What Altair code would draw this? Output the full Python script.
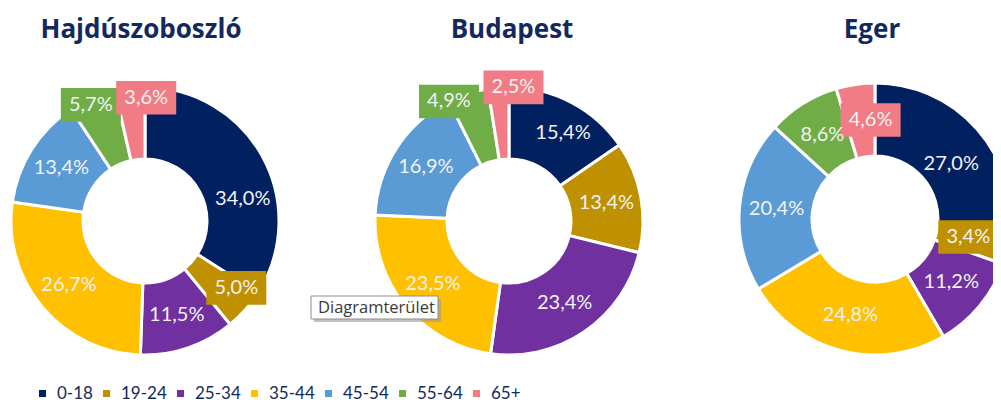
import altair as alt
import pandas as pd

# ---------------- data ----------------
AGES = ["0-18", "19-24", "25-34", "35-44", "45-54", "55-64", "65+"]
CITIES = ["Hajdúszoboszló", "Budapest", "Eger"]
HAJDU = [34.0, 5.0, 11.5, 26.7, 13.4, 5.7, 3.6]
BUDAPEST = [15.4, 13.4, 23.4, 23.5, 16.9, 4.9, 2.5]
EGER = [27.0, 3.4, 11.2, 24.8, 20.4, 8.6, 4.6]
COLORS = ["#002060", "#BF9000", "#7030A0", "#FFC000", "#5B9BD5", "#70AD47", "#F27C85"]

# ---------------- layout (code constants, not data) ----------------
CENTER = {"Hajdúszoboszló": (137, 213), "Budapest": (501, 213), "Eger": (867, 211)}
TITLE_X = {"Hajdúszoboszló": 133, "Budapest": 504, "Eger": 864}
R_OUT = {"Hajdúszoboszló": 134, "Budapest": 134, "Eger": 136}
R_IN = {"Hajdúszoboszló": 62, "Budapest": 62, "Eger": 63}
MID_R = 99
BOX_R = {"Hajdúszoboszló": 122, "Budapest": 134, "Eger": 100}
NUDGE = {
    ("Hajdúszoboszló", "0-18"): (11, 26),
    ("Hajdúszoboszló", "65+"): (15, -2),
    ("Hajdúszoboszló", "55-64"): (-6, -4),
    ("Hajdúszoboszló", "19-24"): (0, -14),
    ("Budapest", "0-18"): (8, 0),
    ("Budapest", "65+"): (15, 0),
    ("Budapest", "55-64"): (-19, 8),
    ("Eger", "0-18"): (2, 10),
    ("Eger", "65+"): (10, 0),
    ("Eger", "19-24"): (-4, -5),
}
TEXT_NAVY = "#13295E"
FONT = "Lato"

rows = []
for city, vals in zip(CITIES, [HAJDU, BUDAPEST, EGER]):
    for i, (age, v) in enumerate(zip(AGES, vals)):
        nx, ny = NUDGE.get((city, age), (0, 0))
        rows.append({"city": city, "age": age, "ord": i, "value": v, "nx": nx, "ny": ny})
df = pd.DataFrame(rows)

color_scale = alt.Scale(domain=AGES, range=COLORS)
legend = alt.Legend(
    title=None, orient="none", legendX=26, legendY=377, direction="horizontal",
    symbolType="square", symbolSize=50, symbolStrokeWidth=0,
    labelFont=FONT, labelFontSize=17, labelColor=TEXT_NAVY,
    columnPadding=5, labelOffset=6, columns=7, gridAlign="none", padding=0,
)

BOX = "M-1,-0.56L1,-0.56L1,0.56L-1,0.56Z"

layers = []
for city in CITIES:
    cx, cy = CENTER[city]
    base = alt.Chart(df).transform_filter(alt.datum.city == city)
    arcs = base.mark_arc(
        outerRadius=R_OUT[city], innerRadius=R_IN[city], stroke="white", strokeWidth=3
    ).encode(
        theta=alt.Theta("value:Q", stack="normalize"),
        color=alt.Color("age:N", scale=color_scale, legend=legend, sort=AGES),
        order=alt.Order("ord:Q"),
        x=alt.value(cx),
        y=alt.value(cy),
    )
    pos = base.transform_window(
        cum="sum(value)", sort=[alt.SortField("ord")], frame=[None, 0]
    ).transform_joinaggregate(
        total="sum(value)"
    ).transform_calculate(
        ang="2*PI*(datum.cum - datum.value/2)/datum.total",
        r=f"datum.value < 6 ? {BOX_R[city]} : {MID_R}",
        lx=f"{cx} + datum.r*sin(datum.ang) + datum.nx",
        ly=f"{cy} - datum.r*cos(datum.ang) + datum.ny",
        txt="replace(format(datum.value, '.1f'), '.', ',') + '%'",
    )
    boxes = pos.transform_filter(alt.datum.value < 6).mark_point(
        shape=BOX, size=3600, filled=True, opacity=1, strokeWidth=0
    ).encode(
        x=alt.X("lx:Q", scale=None, axis=None),
        y=alt.Y("ly:Q", scale=None, axis=None),
        color=alt.Color("age:N", scale=color_scale, legend=legend, sort=AGES),
    )
    labels = pos.mark_text(
        font=FONT, fontSize=20, color="#F2F2F2", align="center", baseline="middle"
    ).encode(
        x=alt.X("lx:Q", scale=None, axis=None),
        y=alt.Y("ly:Q", scale=None, axis=None),
        text="txt:N",
    )
    title = alt.Chart(pd.DataFrame({"t": [city]})).mark_text(
        font="Open Sans", fontSize=26, fontWeight="bold", color=TEXT_NAVY,
        align="center", baseline="middle",
    ).encode(x=alt.value(TITLE_X[city]), y=alt.value(22), text="t:N")
    layers += [arcs, boxes, labels, title]

tip = pd.DataFrame({"t": ["Diagramterület"]})
tip_shadow = alt.Chart(tip).mark_rect(color="#9A9A9A", opacity=0.6).encode(
    x=alt.value(306), x2=alt.value(433), y=alt.value(291), y2=alt.value(314)
)
tip_box = alt.Chart(tip).mark_rect(fill="white", stroke="#8C8C8C", strokeWidth=1).encode(
    x=alt.value(303), x2=alt.value(430), y=alt.value(288), y2=alt.value(311)
)
tip_text = alt.Chart(tip).mark_text(
    font="Open Sans", fontSize=16.5, color="#3A3A3A", align="left", baseline="middle"
).encode(x=alt.value(310), y=alt.value(300), text="t:N")
layers += [tip_shadow, tip_box, tip_text]

chart = alt.layer(*layers).properties(
    width=985, height=395, padding=0,
    autosize=alt.AutoSizeParams(type="none"),
).configure_view(stroke=None)

chart.save("out.html", embed_options={"renderer": "svg", "actions": False})
